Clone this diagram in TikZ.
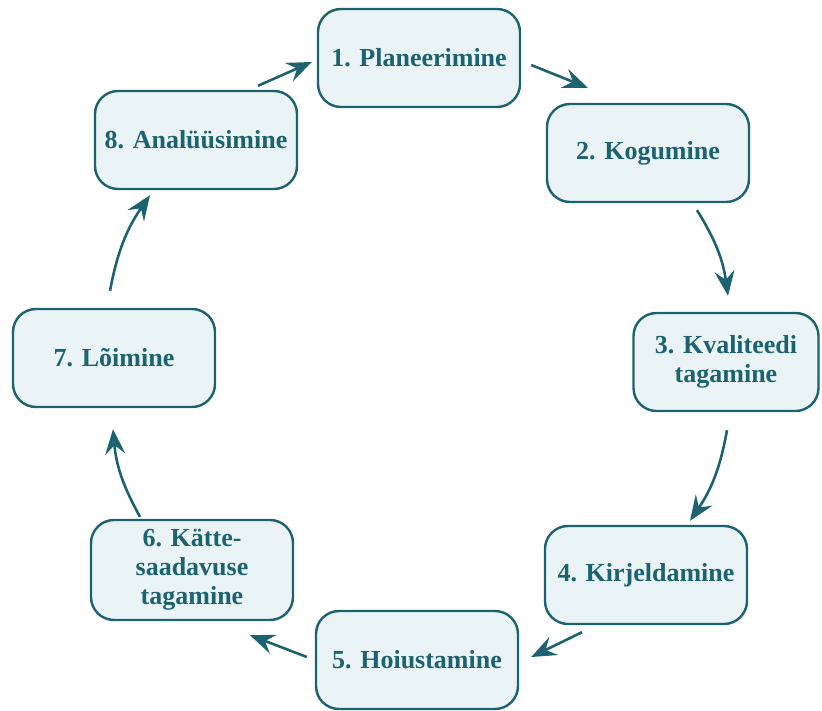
\documentclass[tikz,border=0pt]{standalone}
\usepackage{fontspec}
\setmainfont{Liberation Serif}
\usetikzlibrary{arrows.meta}
\definecolor{tealline}{RGB}{28,98,112}
\definecolor{tealfill}{RGB}{234,244,246}
\tikzset{
  stage/.style={draw=tealline,fill=tealfill,line width=2.4pt,rounded corners=23pt,
    minimum width=202pt,minimum height=98pt,align=center,text=tealline,
    font=\fontsize{26}{29}\selectfont\bfseries},
  flow/.style={draw=tealline,line width=2.6pt,
    -{Stealth[length=25pt,width=20pt,inset=9pt]}}
}
\begin{document}
\begin{tikzpicture}[x=1pt,y=1pt]
  \useasboundingbox (0,0) rectangle (822,710);

  \node[stage] (plan) at (419,652) {1. Planeerimine};
  \node[stage] (kogu) at (648,557) {2. Kogumine};
  \node[stage,minimum width=185pt] (kval) at (726,348) {3. Kvaliteedi\\tagamine};
  \node[stage] (kirj) at (646,135) {4. Kirjeldamine};
  \node[stage] (hoius) at (417,50) {5. Hoiustamine};
  \node[stage,minimum height=100pt] (katte) at (192,140) {6. Kätte-\\saadavuse\\tagamine};
  \node[stage] (loim) at (114,352) {7. Lõimine};
  \node[stage] (anal) at (196,570) {8. Analüüsimine};

  \draw[flow] ([shift={(10,-7)}]plan.east) -- ([shift={(42,15)}]kogu.north west);
  \draw[flow] ([shift={(49,-7)}]kogu.south) to[bend left=12] ([shift={(2,16)}]kval.north);
  \draw[flow] ([shift={(1,-18)}]kval.south) to[bend left=12] ([shift={(44,4)}]kirj.north);
  \draw[flow] ([shift={(-64,-7)}]kirj.south) -- ([shift={(12,3)}]hoius.east);
  \draw[flow] ([shift={(-8,3)}]hoius.west) -- ([shift={(58,-14)}]katte.south);
  \draw[flow] ([shift={(-52,2)}]katte.north) to[bend left=12] ([shift={(-1,-21)}]loim.south);
  \draw[flow] ([shift={(-4,17)}]loim.north) to[bend left=12] ([shift={(-46,-5)}]anal.south);
  \draw[flow] ([shift={(62,4)}]anal.north) -- ([shift={(-5,-4)}]plan.west);
\end{tikzpicture}
\end{document}
